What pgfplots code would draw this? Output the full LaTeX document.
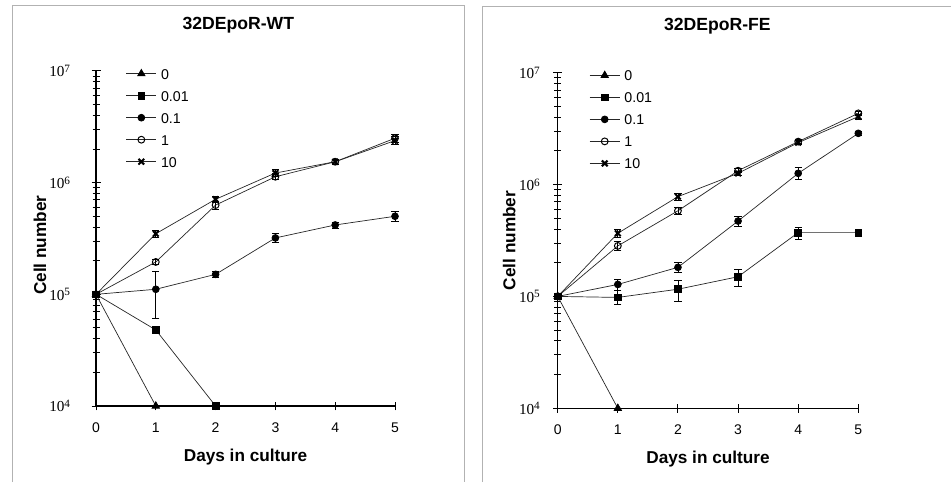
\documentclass[border=0pt]{standalone}
\usepackage{fontspec}
\setmainfont{Liberation Sans}
\newfontfamily\tms{Liberation Serif}
\usepackage{pgfplots}
\pgfplotsset{compat=1.18}

\newcommand{\dec}[1]{{\tms\fontsize{7.6}{8}\selectfont 10\raisebox{0.6ex}{\fontsize{5.6}{6}\selectfont #1}}}

\pgfplotsset{
  every axis/.append style={
    scale only axis, clip=false,
    ymode=log, xmin=0, xmax=5, ymin=1e4, ymax=1e7,
    axis lines=left,
    axis line style={-, line width=0.7pt},
    tick align=center,
    major tick length=4.5pt, minor tick length=3.5pt,
    every tick/.style={black, line width=0.5pt},
    xtick={0,1,2,3,4,5}, xticklabels={0,1,2,3,4,5},
    xticklabel style={anchor=center, yshift=-8.4pt, font=\fontsize{7}{8}\selectfont},
    ytick={1e4,1e5,1e6,1e7},
    yticklabels={\dec{4},\dec{5},\dec{6},\dec{7}},
    title style={font=\fontsize{8.8}{10}\selectfont\bfseries, anchor=center},
    label style={font=\fontsize{8.6}{10}\selectfont\bfseries},
    xlabel={Days in culture},
    ylabel={Cell number},
    legend cell align=left,
    legend style={draw=none, fill=none, inner sep=0pt, row sep=3.5pt,
      column sep=1.2pt, anchor=north west,
      nodes={inner sep=1pt, text height=5.5pt, text depth=0pt,
        font=\fontsize{7.1}{8}\selectfont}},
    legend image code/.code={
      \draw[mark repeat=2, mark phase=2, ##1] plot coordinates {(0pt,0pt) (7.5pt,0pt) (15pt,0pt)};
    },
  },
}
\tikzset{
  base/.style={black!85, line width=0.35pt},
  s0/.style={base, mark=triangle*, mark size=2.1pt, mark options={solid, black, line width=0.4pt}},
  s1/.style={base, mark=square*, mark size=1.7pt, mark options={solid, black, line width=0.4pt}},
  s2/.style={base, mark=*, mark size=1.7pt, mark options={solid, black, line width=0.4pt}},
  s3/.style={base, mark=o, mark size=1.7pt, mark options={solid, black, fill=white, line width=0.5pt}},
  s4/.style={base, mark=x, mark size=2pt, mark options={solid, black, line width=1pt}},
}
\pgfplotsset{
  eb/.style={error bars/.cd, y dir=both, y explicit,
    error bar style={black, line width=0.45pt},
    error mark options={black, line width=0.45pt, mark size=1.8pt, rotate=90}},
}

\begin{document}
\begin{tikzpicture}
\path[use as bounding box] (0,0) rectangle (475.5pt,-241pt);
\draw[gray!60, line width=0.5pt] (6pt,-241pt) -- (6pt,-2.5pt) -- (232pt,-2.5pt) -- (232pt,-241pt);
\draw[gray!60, line width=0.5pt] (241pt,-241pt) -- (241pt,-3.3pt) -- (475.5pt,-3.3pt);

% left panel: 32DEpoR-WT
\begin{axis}[
  at={(48pt,-203pt)}, anchor=south west,
  width=149.5pt, height=167.5pt,
  yticklabel style={anchor=east, inner sep=0pt, xshift=-10.5pt},
  title={32DEpoR-WT},
  title style={at={(axis description cs:0.476,1.102)}},
  xlabel style={at={(axis description cs:0.5,-0.151)}, anchor=center},
  ylabel style={at={(axis description cs:-0.187,0.48)}, anchor=center},
  legend style={at={(axis description cs:0.099,1.0155)}},
]
\addplot[s0] coordinates {(0,1e5) (1,1e4)};
\addlegendentry{0}
\addplot[s1] coordinates {(0,1e5) (1,4.8e4) (2,1e4)};
\addlegendentry{0.01}
\addplot[s2, eb] coordinates {
  (0,1e5) +- (0,0) (1,1.11e5) += (0,4.9e4) -= (0,5.0e4)
  (2,1.51e5) +- (0,8e3) (3,3.2e5) +- (0,3e4)
  (4,4.18e5) +- (0,2.5e4) (5,5.0e5) +- (0,5e4)};
\addlegendentry{0.1}
\addplot[s3, eb] coordinates {
  (0,1e5) +- (0,0) (1,1.95e5) +- (0,1e4) (2,6.3e5) +- (0,5e4)
  (3,1.13e6) +- (0,7e4) (4,1.54e6) +- (0,8e4) (5,2.5e6) +- (0,2e5)};
\addlegendentry{1}
\addplot[s4, eb] coordinates {
  (0,1e5) +- (0,0) (1,3.49e5) +- (0,2.5e4) (2,7.1e5) +- (0,5e4)
  (3,1.22e6) +- (0,8e4) (4,1.54e6) +- (0,8e4) (5,2.38e6) +- (0,2e5)};
\addlegendentry{10}
\end{axis}

% right panel: 32DEpoR-FE
\begin{axis}[
  at={(278.85pt,-204.15pt)}, anchor=south west,
  width=150.3pt, height=167.8pt,
  yticklabel style={anchor=east, inner sep=0pt, xshift=-6.5pt},
  title={32DEpoR-FE},
  title style={at={(axis description cs:0.531,1.1025)}},
  xlabel style={at={(axis description cs:0.5,-0.152)}, anchor=center},
  ylabel style={at={(axis description cs:-0.161,0.5)}, anchor=center},
  legend style={at={(axis description cs:0.104,1.0155)}},
]
\addplot[s0] coordinates {(0,1e5) (1,1e4)};
\addlegendentry{0}
\addplot[s1, eb] coordinates {
  (0,1e5) +- (0,0) (1,9.8e4) += (0,1.6e4) -= (0,1.4e4)
  (2,1.16e5) += (0,2.4e4) -= (0,2.5e4)
  (3,1.50e5) += (0,2.5e4) -= (0,2.6e4)
  (4,3.72e5) += (0,4.3e4) -= (0,4.8e4)
  (5,3.72e5) +- (0,1e4)};
\addlegendentry{0.01}
\addplot[s2, eb] coordinates {
  (0,1e5) +- (0,0) (1,1.28e5) +- (0,1.4e4) (2,1.82e5) +- (0,1.8e4)
  (3,4.72e5) +- (0,5.2e4) (4,1.26e6) +- (0,1.5e5) (5,2.87e6) +- (0,1e5)};
\addlegendentry{0.1}
\addplot[s3, eb] coordinates {
  (0,1e5) +- (0,0) (1,2.83e5) +- (0,2.5e4) (2,5.83e5) +- (0,4.5e4)
  (3,1.33e6) +- (0,5e4) (4,2.42e6) +- (0,1e5) (5,4.33e6) +- (0,2e5)};
\addlegendentry{1}
\addplot[s4, eb] coordinates {
  (0,1e5) +- (0,0) (1,3.67e5) +- (0,3e4) (2,7.8e5) +- (0,6e4)
  (3,1.26e6) +- (0,5e4) (4,2.37e6) +- (0,1e5) (5,4.05e6) +- (0,2e5)};
\addlegendentry{10}
\end{axis}
\end{tikzpicture}
\end{document}
